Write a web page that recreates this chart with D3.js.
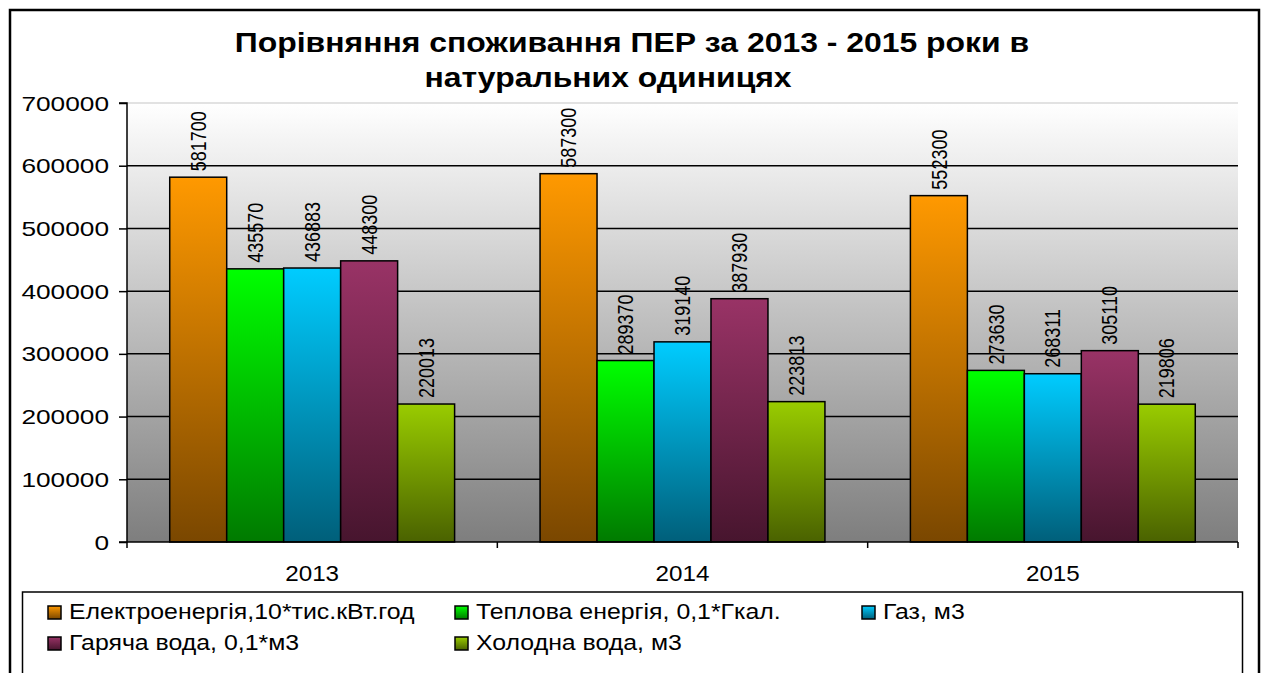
<!DOCTYPE html>
<html><head><meta charset="utf-8">
<script src="https://cdn.jsdelivr.net/npm/d3@7"></script>
<style>html,body{margin:0;padding:0;background:#fff;overflow:hidden}</style>
</head><body>
<svg id="chart" width="1264" height="673"></svg>
<script>
// ---- data ----
const titleLines = ["Порівняння споживання ПЕР за 2013 - 2015 роки в", "натуральних одиницях"];
const categories = ["2013", "2014", "2015"];
const seriesNames = ["Електроенергія,10*тис.кВт.год", "Теплова енергія, 0,1*Гкал.", "Газ, м3", "Гаряча вода, 0,1*м3", "Холодна вода, м3"];
const electricity = [581700, 587300, 552300];
const heat = [435570, 289370, 273630];
const gas = [436883, 319140, 268311];
const hotWater = [448300, 387930, 305110];
const coldWater = [220013, 223813, 219806];
const yTicks = [0, 100000, 200000, 300000, 400000, 500000, 600000, 700000];

// ---- styles ----
const topColors = ["#FF9900", "#00FF00", "#00CCFF", "#993366", "#99CC00"];
const bottomColors = ["#7A4700", "#007A00", "#005F7A", "#47152E", "#4A6200"];
const FONT = "'Liberation Sans', Arial, sans-serif";
const SX = 1.15;

const seriesValues = [electricity, heat, gas, hotWater, coldWater];
const rows = categories.map((c, i) => ({cat: c, vals: seriesValues.map((s, j) => ({key: j, v: s[i]}))}));

const svg = d3.select("#chart");
const defs = svg.append("defs");

const bg = defs.append("linearGradient").attr("id", "bgGrad").attr("x1", 0).attr("y1", 0).attr("x2", 0).attr("y2", 1);
bg.append("stop").attr("offset", "0%").attr("stop-color", "#FFFFFF");
bg.append("stop").attr("offset", "100%").attr("stop-color", "#7E7E7E");

topColors.forEach((c, i) => {
  const g = defs.append("linearGradient").attr("id", "barGrad" + i).attr("x1", 0).attr("y1", 0).attr("x2", 0).attr("y2", 1);
  g.append("stop").attr("offset", "0%").attr("stop-color", c);
  g.append("stop").attr("offset", "100%").attr("stop-color", bottomColors[i]);
});

function sText(parent, x, y, str, o) {
  const g = parent.append("g").attr("transform", `translate(${x},${y}) scale(${o.sx || SX},1)` + (o.rot ? ` rotate(${o.rot})` : ""));
  return g.append("text").text(str)
    .attr("font-family", FONT).attr("font-size", o.size).attr("font-weight", o.bold ? "bold" : "normal")
    .attr("text-anchor", o.anchor || "start").attr("dy", o.dy || 0).attr("fill", "#000");
}

// outer frame
svg.append("rect").attr("x", 10).attr("y", 10).attr("width", 1249).attr("height", 700)
  .attr("fill", "#fff").attr("stroke", "#000").attr("stroke-width", 2.5);

// title
sText(svg, 632, 52, titleLines[0], {size: 28, bold: true, anchor: "middle", sx: 1.14});
sText(svg, 608, 87, titleLines[1], {size: 28, bold: true, anchor: "middle", sx: 1.14});

// plot
const L = 127, R = 1238, T = 103, B = 542;
const y = d3.scaleLinear().domain([0, 700000]).range([B, T]);
const x0 = d3.scaleBand().domain(categories).range([L, R]).padding(0);
const bw = x0.bandwidth();
const pad = bw * 0.75 / 6.5;
const x1 = d3.scaleBand().domain(d3.range(seriesNames.length)).range([pad, bw - pad]).padding(0);

svg.append("rect").attr("x", L).attr("y", T).attr("width", R - L).attr("height", B - T).attr("fill", "url(#bgGrad)");

// gridlines
svg.append("g").selectAll("line").data(yTicks.filter(t => t > 0)).join("line")
  .attr("x1", L).attr("x2", R).attr("y1", d => y(d)).attr("y2", d => y(d))
  .attr("stroke", d => d === 700000 ? "#D8D8D8" : "#000").attr("stroke-width", 1.5);

// bars
const groups = svg.append("g").selectAll("g").data(rows).join("g")
  .attr("transform", d => `translate(${x0(d.cat)},0)`);
groups.selectAll("rect").data(d => d.vals).join("rect")
  .attr("x", d => x1(d.key)).attr("width", x1.bandwidth())
  .attr("y", d => y(d.v)).attr("height", d => B - y(d.v))
  .attr("fill", d => `url(#barGrad${d.key})`).attr("stroke", "#000").attr("stroke-width", 1.5);

// data labels
rows.forEach(r => {
  r.vals.forEach(d => {
    sText(svg, x0(r.cat) + x1(d.key) + x1.bandwidth() / 2, y(d.v) - 6, String(d.v),
      {size: 18, rot: -90, dy: "0.36em", sx: 1.18});
  });
});

// y axis
const yAxis = d3.axisLeft(y).tickValues(yTicks).tickSize(8).tickFormat("");
const ya = svg.append("g").attr("transform", `translate(${L},0)`).call(yAxis);
ya.selectAll("path,line").attr("stroke", "#000").attr("stroke-width", 1.5);
ya.select(".domain").attr("d", `M-8,${T}H0V${B}H-8`);
yTicks.forEach(t => sText(svg, 109, y(t), String(t), {size: 21, anchor: "end", dy: "0.36em", sx: 1.25}));

// x axis
const xa = svg.append("g").attr("transform", `translate(0,${B})`);
const bounds = categories.map(c => x0(c)).concat([R]);
xa.append("line").attr("x1", L).attr("x2", R).attr("y1", 0).attr("y2", 0).attr("stroke", "#000").attr("stroke-width", 1.5);
xa.selectAll("line.tk").data(bounds).join("line").attr("class", "tk")
  .attr("x1", d => d).attr("x2", d => d).attr("y1", 0).attr("y2", 6).attr("stroke", "#000").attr("stroke-width", 1.5);
categories.forEach(c => sText(svg, x0(c) + bw / 2, 581, c, {size: 22, anchor: "middle", sx: 1.1}));

// legend
svg.append("rect").attr("x", 22.5).attr("y", 592).attr("width", 1220).attr("height", 120)
  .attr("fill", "#fff").attr("stroke", "#000").attr("stroke-width", 1.5);
const legCols = [48, 455, 862];
const legRows = [619, 650];
seriesNames.forEach((n, i) => {
  const cx = legCols[i % 3], cy = legRows[Math.floor(i / 3)];
  svg.append("rect").attr("x", cx).attr("y", cy - 13).attr("width", 13).attr("height", 13)
    .attr("fill", `url(#barGrad${i})`).attr("stroke", "#000").attr("stroke-width", 1.5);
  sText(svg, cx + 21, cy, n, {size: 22, sx: 1.13});
});
</script></body></html>
